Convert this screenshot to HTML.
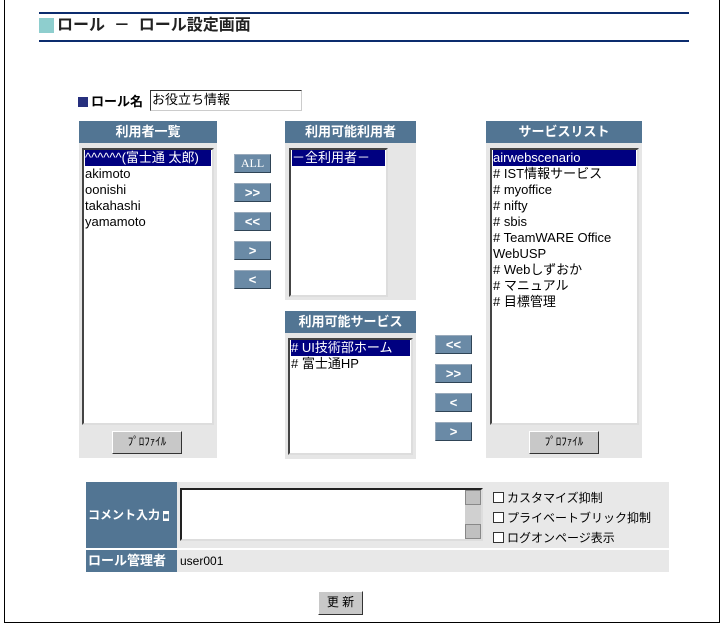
<!DOCTYPE html>
<html><head><meta charset="utf-8"><style>
*{margin:0;padding:0;box-sizing:border-box}
body{width:726px;height:628px;background:#fff;position:relative;overflow:hidden;font-family:"Liberation Sans","Noto Sans CJK JP",sans-serif;font-size:12px;color:#000}
.a{position:absolute}
.hd{position:absolute;background:#527593;color:#fff;font-weight:bold;font-size:13px;text-align:center;line-height:22px;height:22px}
.bd{position:absolute;background:#e6e6e6}
.ls{position:absolute;background:#fff;border:2px solid;border-color:#444 #ddd #ddd #444;font-size:13px;line-height:16px;padding:0 1px;white-space:nowrap;overflow:hidden}
.sel{background:#000080;color:#fff}
.bt{position:absolute;width:37px;height:19px;background:#6a8aa6;border:1px solid;border-color:#9ab #2f4456 #2f4456 #9ab;color:#fff;font-weight:bold;text-align:center;line-height:17px;font-size:13px}
.pb{position:absolute;background:#c8c8c8;border:1px solid;border-color:#fff #333 #333 #fff;font-size:11px;text-align:center;line-height:21px}
.cb{display:inline-block;width:11px;height:11px;border:1px solid #333;background:#fff;vertical-align:-1px;margin-right:3px}
</style></head><body>
<div class="a" style="left:4px;top:0;width:716px;height:623px;border:1px solid #000;border-top:none"></div>
<div class="a" style="left:39px;top:12px;width:650px;height:2px;background:#0c2c6e"></div>
<div class="a" style="left:39px;top:40px;width:650px;height:2px;background:#0c2c6e"></div>
<div class="a" style="left:39px;top:18px;width:15px;height:15px;background:#8ecece"></div>
<div class="a" style="left:57px;top:16px;font-size:16px;font-weight:bold;color:#222;line-height:20px;white-space:pre">ロール  －  ロール設定画面</div>

<div class="a" style="left:78px;top:97px;width:10px;height:10px;background:#27307e"></div>
<div class="a" style="left:91px;top:94px;font-size:13px;font-weight:bold;line-height:16px">ロール名</div>
<div class="a" style="left:150px;top:90px;width:152px;height:21px;border:1px solid;border-color:#333 #ccc #ccc #333;font-size:13px;line-height:18px;padding-left:1px">お役立ち情報</div>

<div class="hd" style="left:79px;top:121px;width:138px">利用者一覧</div>
<div class="bd" style="left:79px;top:143px;width:138px;height:315px"></div>
<div class="ls" style="left:82px;top:148px;width:132px;height:277px"><div class="sel">^^^^^^(富士通 太郎)</div><div>akimoto</div><div>oonishi</div><div>takahashi</div><div>yamamoto</div></div>
<div class="pb" style="left:112px;top:431px;width:70px;height:23px">ﾌﾟﾛﾌｧｲﾙ</div>

<div class="bt" style="left:234px;top:154px;font-weight:normal;font-family:'Liberation Serif',serif;font-size:12px">ALL</div>
<div class="bt" style="left:234px;top:183px">&gt;&gt;</div>
<div class="bt" style="left:234px;top:212px">&lt;&lt;</div>
<div class="bt" style="left:234px;top:241px">&gt;</div>
<div class="bt" style="left:234px;top:270px">&lt;</div>

<div class="hd" style="left:285px;top:121px;width:131px">利用可能利用者</div>
<div class="bd" style="left:285px;top:143px;width:131px;height:157px"></div>
<div class="ls" style="left:289px;top:148px;width:99px;height:149px"><div class="sel">－全利用者－</div></div>

<div class="hd" style="left:285px;top:311px;width:131px">利用可能サービス</div>
<div class="bd" style="left:285px;top:333px;width:131px;height:126px"></div>
<div class="ls" style="left:288px;top:338px;width:125px;height:117px"><div class="sel"># UI技術部ホーム</div><div># 富士通HP</div></div>

<div class="bt" style="left:435px;top:335px">&lt;&lt;</div>
<div class="bt" style="left:435px;top:364px">&gt;&gt;</div>
<div class="bt" style="left:435px;top:393px">&lt;</div>
<div class="bt" style="left:435px;top:422px">&gt;</div>

<div class="hd" style="left:486px;top:121px;width:156px">サービスリスト</div>
<div class="bd" style="left:486px;top:143px;width:156px;height:315px"></div>
<div class="ls" style="left:490px;top:148px;width:149px;height:277px"><div class="sel">airwebscenario</div><div># IST情報サービス</div><div># myoffice</div><div># nifty</div><div># sbis</div><div># TeamWARE Office</div><div>WebUSP</div><div># Webしずおか</div><div># マニュアル</div><div># 目標管理</div></div>
<div class="pb" style="left:529px;top:431px;width:70px;height:23px">ﾌﾟﾛﾌｧｲﾙ</div>

<div class="a" style="left:86px;top:482px;width:583px;height:66px;background:#e8e8e8"></div>
<div class="a" style="left:86px;top:482px;width:91px;height:66px;background:#527593;color:#fff;font-weight:bold;font-size:12px;line-height:66px;padding-left:2px">コメント入力 <span style="background:#fff;color:#527593;font-size:9px">■</span></div>
<div class="a" style="left:180px;top:488px;width:303px;height:53px;background:#fff;border:2px solid;border-color:#222 #ddd #ddd #222"></div>
<div class="a" style="left:465px;top:490px;width:16px;height:49px;background:#d0d0d0"></div>
<div class="a" style="left:465px;top:490px;width:16px;height:15px;background:#c0c0c0;border:1px solid #888"></div>
<div class="a" style="left:465px;top:524px;width:16px;height:15px;background:#c0c0c0;border:1px solid #888"></div>
<div class="a" style="left:493px;top:488px;font-size:12px;line-height:20px"><div><span class="cb"></span>カスタマイズ抑制</div><div><span class="cb"></span>プライベートブリック抑制</div><div><span class="cb"></span>ログオンページ表示</div></div>
<div class="a" style="left:86px;top:550px;width:583px;height:22px;background:#e8e8e8"></div>
<div class="a" style="left:86px;top:550px;width:91px;height:22px;background:#527593;color:#fff;font-weight:bold;font-size:13px;line-height:22px;padding-left:2px">ロール管理者</div>
<div class="a" style="left:180px;top:550px;line-height:22px;font-size:12px">user001</div>

<div class="pb" style="left:318px;top:591px;width:45px;height:24px;font-size:12px">更 新</div>
</body></html>
